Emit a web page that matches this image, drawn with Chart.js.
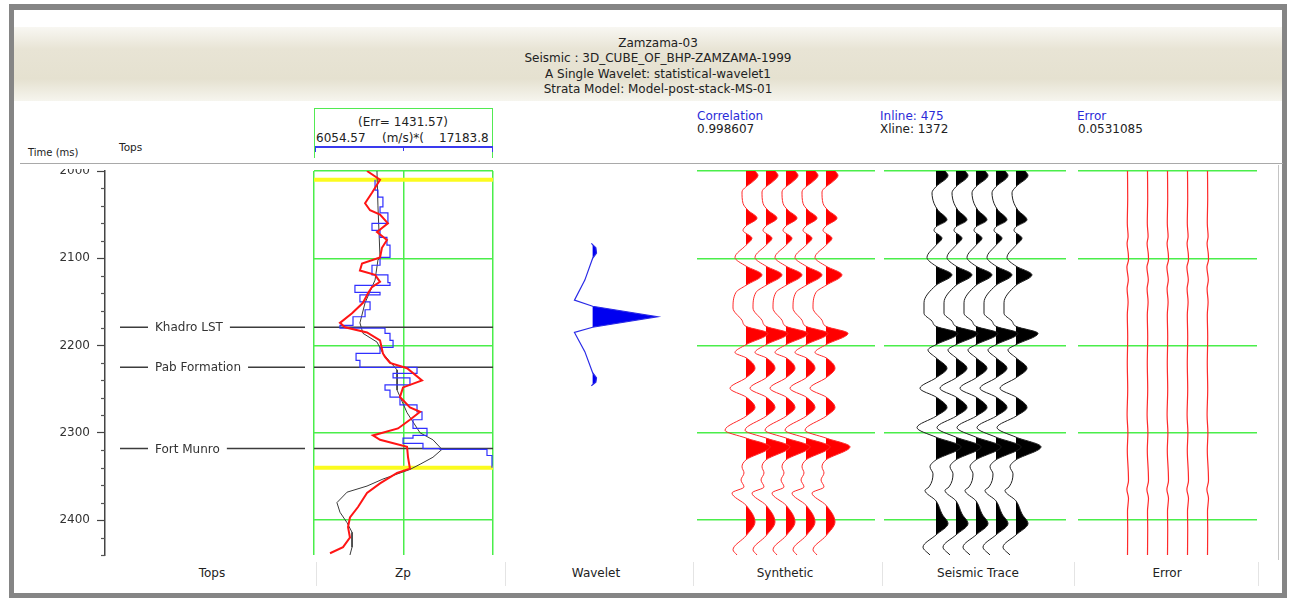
<!DOCTYPE html>
<html>
<head>
<meta charset="utf-8">
<title>Zamzama-03 well tie</title>
<script src="https://cdn.jsdelivr.net/npm/chart.js@4.4.0/dist/chart.umd.min.js"></script>
<style>
  body { margin: 0; width: 1289px; height: 603px; background: #fff; position: relative; overflow: hidden;
         font-family: "DejaVu Sans", sans-serif; font-size: 12px; color: #222; }
  .abs { position: absolute; white-space: nowrap; }
  .frame { left: 9px; top: 4px; width: 1278px; height: 594px; box-sizing: border-box;
           border: 5px solid #858585; border-top-width: 6px; }
  .band { left: 14px; top: 27px; width: 1268px; height: 74px;
          background: linear-gradient(#f8f7f2, #e8e4d5 30%, #e5e1d0 70%, #f6f5ee); }
  .ctr { width: 400px; text-align: center; }
  .blue { color: #2b2bd8; }
  .sep { left: 20px; top: 163px; width: 1263px; height: 1px; background: #a9a9a9; }
  .vsep { top: 562px; width: 1px; height: 24px; background: #e4e4e4; }
  canvas { position: absolute; }
</style>
</head>
<body>
<div class="abs frame"></div>
<div class="abs band"></div>

<div class="abs ctr" style="left:458px;top:36px">Zamzama-03</div>
<div class="abs ctr" style="left:458px;top:51px">Seismic : 3D_CUBE_OF_BHP-ZAMZAMA-1999</div>
<div class="abs ctr" style="left:458px;top:67px">A Single Wavelet: statistical-wavelet1</div>
<div class="abs ctr" style="left:458px;top:82px">Strata Model: Model-post-stack-MS-01</div>

<div class="abs" style="left:28px;top:147px;font-size:10px">Time (ms)</div>
<div class="abs" style="left:119px;top:141px;font-size:10.5px">Tops</div>

<div id="zpBox" class="abs" style="left:314px;top:108px;width:179px;height:50px;box-sizing:border-box;border:1.5px solid #52ea52;border-bottom:none"></div>
<div id="zpErr" class="abs ctr" style="left:203px;top:115px"></div>
<div id="zpMin" class="abs" style="left:316px;top:131px"></div>
<div class="abs" style="left:382px;top:131px">(m/s)*(</div>
<div id="zpMax" class="abs" style="left:439px;top:131px"></div>
<div class="abs" style="left:315px;top:146px;width:178px;height:2px;background:#3a3aee"></div>
<div class="abs" style="left:315px;top:146px;width:1px;height:6px;background:#3a3aee"></div>
<div class="abs" style="left:403px;top:146px;width:1px;height:5px;background:#3a3aee"></div>
<div class="abs" style="left:492px;top:146px;width:1px;height:6px;background:#3a3aee"></div>

<div class="abs blue" style="left:697px;top:109px">Correlation</div>
<div id="corr" class="abs" style="left:697px;top:122px"></div>
<div id="inl" class="abs blue" style="left:880px;top:109px"></div>
<div id="xl" class="abs" style="left:880px;top:122px"></div>
<div class="abs blue" style="left:1077px;top:109px">Error</div>
<div id="errv" class="abs" style="left:1078px;top:122px"></div>

<div class="abs sep"></div>
<div class="abs" style="left:1278px;top:165px;width:1px;height:395px;background:#c4c4c4"></div>

<canvas id="tops" width="290" height="392" style="left:20px;top:169px"></canvas>
<canvas id="zp" width="187" height="396" style="left:310px;top:165px"></canvas>
<canvas id="wavelet" width="185" height="396" style="left:505px;top:165px"></canvas>
<canvas id="synthetic" width="186" height="396" style="left:693px;top:165px"></canvas>
<canvas id="seismic" width="190" height="396" style="left:880px;top:165px"></canvas>
<canvas id="error" width="187" height="396" style="left:1074px;top:165px"></canvas>

<div class="abs vsep" style="left:316px"></div>
<div class="abs vsep" style="left:505px"></div>
<div class="abs vsep" style="left:693px"></div>
<div class="abs vsep" style="left:882px"></div>
<div class="abs vsep" style="left:1074px"></div>
<div class="abs vsep" style="left:1258px"></div>
<div class="abs ctr" style="left:12px;top:566px">Tops</div>
<div class="abs ctr" style="left:203px;top:566px">Zp</div>
<div class="abs ctr" style="left:396px;top:566px">Wavelet</div>
<div class="abs ctr" style="left:585px;top:566px">Synthetic</div>
<div class="abs ctr" style="left:778px;top:566px">Seismic Trace</div>
<div class="abs ctr" style="left:967px;top:566px">Error</div>

<script>
// ---- well / tie values ----
const timeRange = [2000, 2440];
const topNames = ['Khadro LST', 'Pab Formation', 'Fort Munro'];
const topTimes = [2179, 2225, 2318];
const windowTimes = [2010, 2340];
const zpRange = [6054.57, 17183.8];
const zpError = 1431.57;
const correlation = 0.998607;
const inlineNo = 475;
const xlineNo = 1372;
const tieError = 0.0531085;

// inverted impedance (red)
const invTime = [2000, 2010, 2025, 2037, 2045, 2050, 2060, 2070, 2079, 2088, 2099, 2106, 2114, 2119, 2127, 2133,
  2140, 2151, 2163, 2174, 2179, 2185, 2194, 2209, 2213, 2220, 2226, 2240, 2248, 2259, 2271, 2276, 2285, 2295,
  2303, 2308, 2316, 2328, 2341, 2346, 2358, 2369, 2385, 2397, 2408, 2420, 2431, 2438];
const invZp = [9350, 10160, 9660, 9230, 9540, 10160, 10650, 9970, 10590, 10280, 10160, 9040, 8910, 9850, 10160, 9660,
  9410, 9100, 8420, 7670, 7980, 9350, 10160, 10340, 10470, 10780, 11840, 12770, 11590, 11400, 12020, 12650, 12020, 11280,
  9720, 10160, 11840, 11900, 12020, 11220, 10160, 9350, 8790, 8290, 8170, 8290, 7860, 7050];

// initial model (black)
const modelTime = [2000, 2040, 2099, 2102, 2125, 2151, 2174, 2186, 2196, 2209, 2228, 2251, 2277, 2300, 2308, 2319,
  2328, 2336, 2342, 2353, 2361, 2368, 2380, 2391, 2403, 2414, 2431, 2440];
const modelZp = [9970, 10030, 10160, 10030, 9850, 9230, 8910, 9100, 9970, 10340, 11220, 11220, 11840, 12650, 13450, 14010,
  13450, 12650, 12020, 10340, 9350, 8110, 7480, 7670, 8110, 8420, 8420, 8290];

// well log impedance (blue, blocked)
const logTime = [2010, 2022, 2030, 2041, 2048, 2060, 2068, 2076, 2085, 2099, 2108, 2119, 2128, 2131, 2139, 2142, 2150,
  2159, 2167, 2177, 2180, 2186, 2194, 2202, 2209, 2217, 2225, 2232, 2237, 2245, 2251, 2259, 2268, 2276, 2285, 2295,
  2303, 2306, 2312, 2318, 2319, 2326, 2340];
const logZp = [9850, 10030, 10340, 10160, 10650, 9660, 10160, 10590, 10780, 10160, 9660, 10650, 10780, 8600, 10160, 8910, 9540,
  9230, 8480, 7670, 10470, 10780, 10970, 10160, 8670, 8910, 12460, 10970, 12020, 10470, 10780, 11400, 12460, 12770, 12210, 13080,
  12210, 11590, 12830, 13890, 16810, 17120, 17120];

// statistical wavelet
const waveletCentre = 2167;
const waveletLag = [-84, -79, -73, -67, -42, -19, -12, 0, 12, 18, 40, 64, 70, 75, 79];
const waveletAmp = [-0.02, 0.05, 0.06, 0.0, -0.12, -0.28, 0.0, 1.0, 0.0, -0.28, -0.12, 0.0, 0.06, 0.05, -0.02];

// synthetic trace
const synTime = [2000, 2005, 2013, 2018, 2024, 2037, 2045, 2054, 2063, 2068, 2077, 2085, 2099, 2109, 2119, 2131, 2139,
  2157, 2171, 2178, 2186, 2199, 2208, 2214, 2226, 2237, 2249, 2259, 2271, 2281, 2297, 2306, 2316, 2331, 2339, 2346,
  2354, 2362, 2369, 2383, 2402, 2418, 2434, 2440];
const synAmp = [0.45, 0.6, 0.3, 0, -0.2, -0.15, 0.1, 0.55, 0, -0.15, 0.3, 0, -0.55, 0, 0.8, 0, -0.5,
  -0.65, -0.2, 0, 1.1, 0, -0.55, 0, 0.45, 0, -0.8, 0, 0.45, 0, -1.05, 0, 1.2, 0, -0.2, -0.1,
  -0.25, -0.1, -0.7, 0, 0.45, 0, -0.65, -0.45];

// seismic trace at the well
const seisTime = [2000, 2005, 2018, 2025, 2037, 2045, 2056, 2064, 2068, 2077, 2085, 2099, 2109, 2119, 2131, 2151, 2163,
  2172, 2178, 2186, 2199, 2205, 2214, 2226, 2237, 2249, 2259, 2271, 2281, 2294, 2305, 2316, 2331, 2339, 2347, 2362,
  2366, 2378, 2393, 2404, 2417, 2431, 2440];
const seisAmp = [0.45, 0.6, 0, -0.2, -0.1, 0.1, 0.55, 0, -0.1, 0.3, 0, -0.45, 0, 0.8, 0, -0.6, -0.6,
  -0.2, 0, 1.1, 0, -0.4, 0, 0.55, 0, -0.8, 0, 0.55, 0, -0.95, 0, 1.25, 0, -0.3, -0.15, -0.35,
  -0.55, 0, 0.3, 0.6, 0, -0.65, -0.3];

// residual (seismic - synthetic)
const errTime = [2000, 2030, 2060, 2075, 2083, 2095, 2102, 2110, 2125, 2135, 2150, 2165, 2190, 2220, 2250, 2280, 2300,
  2320, 2345, 2355, 2365, 2375, 2390, 2410, 2440];
const errAmp = [0, 0.01, -0.01, 0.03, -0.02, 0.04, 0.05, -0.03, 0.04, -0.02, 0.03, -0.01, 0.01, -0.01, 0.01, -0.02, 0.02,
  -0.01, 0.04, 0.05, -0.03, 0.05, 0, 0.01, 0];

const traceNumbers = [1, 2, 3, 4, 5];

// ---- header texts ----
document.getElementById('zpErr').textContent = '(Err= ' + zpError.toFixed(2) + ')';
document.getElementById('zpMin').textContent = zpRange[0].toFixed(2);
document.getElementById('zpMax').textContent = String(zpRange[1]);
document.getElementById('corr').textContent = String(correlation);
document.getElementById('inl').textContent = 'Inline: ' + inlineNo;
document.getElementById('xl').textContent = 'Xline: ' + xlineNo;
document.getElementById('errv').textContent = String(tieError);

// ---- chart helpers ----
Chart.defaults.font.family = '"DejaVu Sans", sans-serif';
const GREEN = '#4aee4a';

function timeAxis(gridColor) {
  return {
    type: 'linear', reverse: true, min: timeRange[0], max: timeRange[1],
    afterFit: s => { s.width = 0; s.paddingTop = 0; s.paddingBottom = 0; },
    ticks: { display: false, stepSize: 100, includeBounds: false },
    grid: { color: gridColor, lineWidth: 1.5, drawTicks: false },
    border: { display: false }
  };
}
function valueAxis(min, max, extra) {
  return Object.assign({
    type: 'linear', min, max,
    afterFit: s => { s.height = 0; s.paddingLeft = 0; s.paddingRight = 0; },
    ticks: { display: false },
    grid: { display: false, drawTicks: false },
    border: { display: false }
  }, extra || {});
}

// fills the right-hand lobes of a wiggle between the curve and its zero line
const wiggleFill = {
  id: 'wiggleFill',
  beforeDatasetsDraw(chart) {
    const { ctx, chartArea: a, scales: { x } } = chart;
    chart.data.datasets.forEach((ds, i) => {
      if (!ds.wiggleFill) return;
      const meta = chart.getDatasetMeta(i);
      const line = meta.dataset, pts = meta.data;
      if (!line || !pts.length) return;
      line.updateControlPoints(a, 'y');
      const x0 = x.getPixelForValue(ds.wiggleBase);
      ctx.save();
      ctx.beginPath();
      ctx.rect(x0, a.top - 2, a.right - x0, a.bottom - a.top + 4);
      ctx.clip();
      ctx.beginPath();
      line.path(ctx);
      // close well left of the clip edge so no seam shows along the zero line
      ctx.lineTo(x0 - 6, pts[pts.length - 1].y);
      ctx.lineTo(x0 - 6, pts[0].y);
      ctx.closePath();
      ctx.fillStyle = ds.wiggleFill;
      ctx.fill();
      ctx.restore();
    });
  }
};

function makeChart(id, datasets, xOpts, yOpts, padding, plugins) {
  return new Chart(document.getElementById(id), {
    type: 'line',
    data: { datasets },
    options: {
      responsive: false, animation: false, events: [],
      indexAxis: 'y',
      layout: { padding },
      elements: { point: { radius: 0 }, line: { tension: 0 } },
      plugins: { legend: { display: false }, tooltip: { enabled: false } },
      scales: { x: xOpts, y: yOpts }
    },
    plugins: plugins || []
  });
}

function horizontal(t, x0, x1, color, width, order) {
  return { data: [{ x: x0, y: t }, { x: x1, y: t }], borderColor: color, borderWidth: width, order };
}

// ---- Tops track with the time axis ----
const TOP_LINE_FROM = 0.075;
const TOP_LABEL_AT = 0.25;
const topLabels = {
  id: 'topLabels',
  afterDatasetsDraw(chart) {
    const { ctx, scales: { x, y } } = chart;
    ctx.save();
    ctx.font = '12px "DejaVu Sans"';
    ctx.textBaseline = 'middle';
    topNames.forEach((name, i) => {
      const py = y.getPixelForValue(topTimes[i]);
      const px = x.getPixelForValue(TOP_LABEL_AT);
      const w = ctx.measureText(name).width;
      ctx.fillStyle = '#fff';
      ctx.fillRect(px - 7, py - 3, w + 14, 6);
      ctx.fillStyle = '#333';
      ctx.fillText(name, px, py + 1);
    });
    ctx.restore();
  }
};
const minorTicks = {
  id: 'minorTicks',
  afterDraw(chart) {
    const y = chart.scales.y, ctx = chart.ctx, x0 = chart.chartArea.left;
    ctx.save();
    ctx.strokeStyle = '#555';
    ctx.lineWidth = 1.2;
    y.ticks.forEach(t => {
      if (t.value % 100 === 0) return;
      const p = Math.round(y.getPixelForValue(t.value)) + 0.5;
      ctx.beginPath();
      ctx.moveTo(x0 - 4, p);
      ctx.lineTo(x0, p);
      ctx.stroke();
    });
    ctx.restore();
  }
};
makeChart('tops',
  topTimes.map(t => horizontal(t, TOP_LINE_FROM, 1, '#3c3c3c', 1.5, 0)),
  valueAxis(0, 1),
  {
    type: 'linear', reverse: true, min: timeRange[0], max: timeRange[1], position: 'left',
    afterFit: s => { s.width = 85; s.paddingTop = 0; s.paddingBottom = 0; },
    ticks: { stepSize: 20, autoSkip: false, padding: 7, color: '#333', font: { size: 12 },
             callback: v => (v % 100 === 0 ? String(v) : '') },
    grid: { drawOnChartArea: false, tickLength: 8, tickWidth: 1.2,
            color: c => (c.tick && c.tick.value % 100 === 0 ? '#444' : 'rgba(0,0,0,0)') },
    border: { display: true, color: '#444', width: 1.5 }
  },
  { top: 2, bottom: 6, left: 0, right: 5 },
  [topLabels, minorTicks]);

// ---- Zp track ----
const zpMid = (zpRange[0] + zpRange[1]) / 2;
makeChart('zp',
  [
    ...windowTimes.map(t => horizontal(t, zpRange[0], zpRange[1], '#fbfb1e', 4, 10)),
    ...topTimes.map(t => horizontal(t, zpRange[0], zpRange[1], '#3c3c3c', 1.5, 9)),
    { data: modelTime.map((t, i) => ({ x: modelZp[i], y: t })), borderColor: '#3a3a3a', borderWidth: 1, order: 3 },
    { data: logTime.map((t, i) => ({ x: logZp[i], y: t })), borderColor: '#3030ff', borderWidth: 1.2, stepped: 'after', order: 2 },
    { data: invTime.map((t, i) => ({ x: invZp[i], y: t })), borderColor: '#ff1414', borderWidth: 2, order: 1 }
  ],
  valueAxis(zpRange[0], zpRange[1], {
    afterBuildTicks: s => { s.ticks = [zpRange[0], zpMid, zpRange[1]].map(v => ({ value: v })); },
    grid: { display: true, color: GREEN, lineWidth: 1.5, drawTicks: false }
  }),
  timeAxis(GREEN),
  { top: 6, bottom: 6, left: 4, right: 4 });

// ---- Wavelet track ----
makeChart('wavelet',
  [{ data: waveletLag.map((l, i) => ({ x: waveletAmp[i], y: waveletCentre + l })),
     borderColor: '#2a2ae6', borderWidth: 1.2, wiggleFill: '#0000f0', wiggleBase: 0 }],
  valueAxis(-1.35, 1.5),
  timeAxis('rgba(0,0,0,0)'),
  { top: 6, bottom: 6, left: 0, right: 0 },
  [wiggleFill]);

// ---- repeated wiggle traces ----
function traceSet(times, amps, line, fill, width) {
  return traceNumbers.map(k => ({
    data: times.map((t, i) => ({ x: k + amps[i], y: t })),
    borderColor: line, borderWidth: width, cubicInterpolationMode: 'monotone',
    wiggleFill: fill, wiggleBase: k
  }));
}
makeChart('synthetic', traceSet(synTime, synAmp, '#ff2a2a', '#ff0000', 1),
  valueAxis(-1.45, 7.45), timeAxis(GREEN), { top: 6, bottom: 6, left: 4, right: 4 }, [wiggleFill]);
makeChart('seismic', traceSet(seisTime, seisAmp, '#1e1e1e', '#000000', 1),
  valueAxis(-1.6, 7.5), timeAxis(GREEN), { top: 6, bottom: 6, left: 4, right: 4 }, [wiggleFill]);
makeChart('error', traceSet(errTime, errAmp, '#ff2a2a', null, 1.2),
  valueAxis(-1.475, 7.475), timeAxis(GREEN), { top: 6, bottom: 6, left: 4, right: 4 });
</script>
</body>
</html>
